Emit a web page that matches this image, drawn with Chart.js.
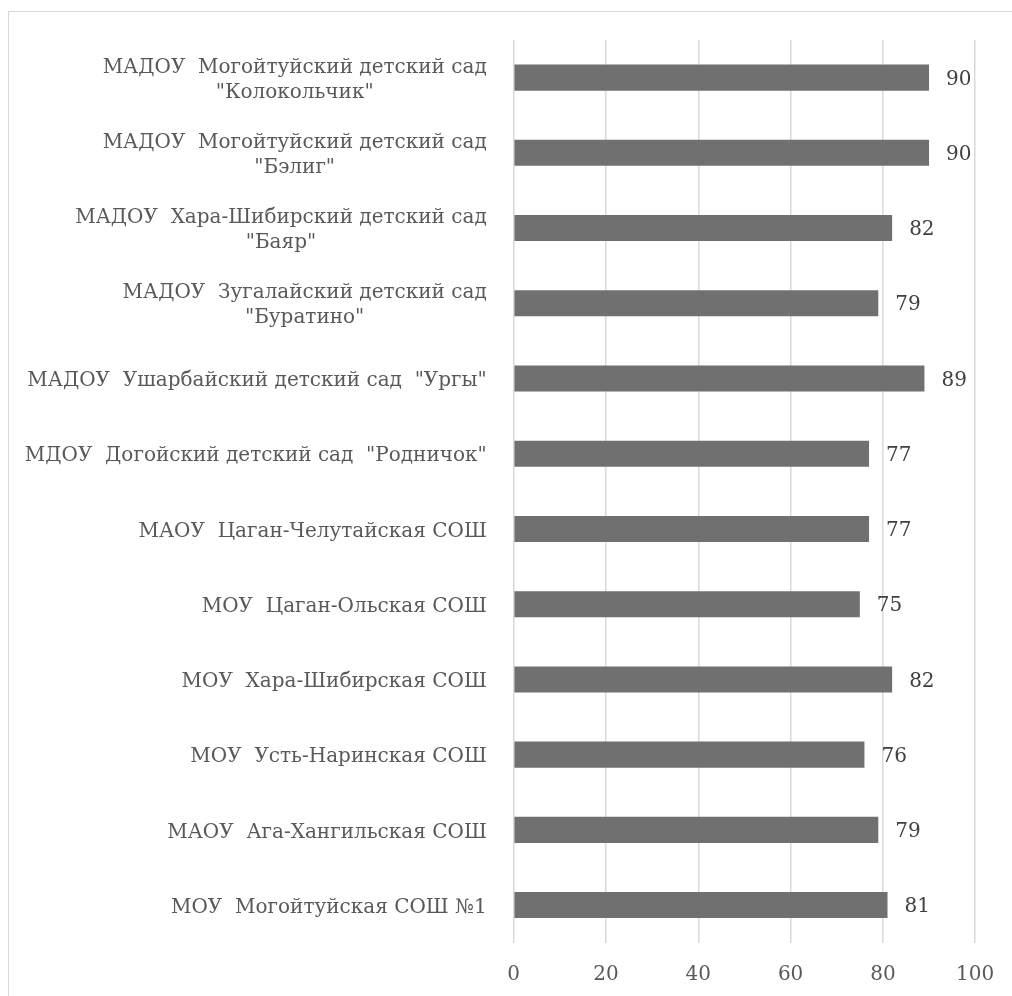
<!DOCTYPE html>
<html><head><meta charset="utf-8">
<script src="https://cdn.jsdelivr.net/npm/chart.js@4"></script>
<style>html,body{margin:0;padding:0;background:#fff;overflow:hidden}#wrap{position:relative;width:1012px;height:996px}</style>
</head><body><div id="wrap"><canvas id="c" width="1012" height="996"></canvas></div>
<script>
const categories = [
  ['МАДОУ  Могойтуйский детский сад', '"Колокольчик"'],
  ['МАДОУ  Могойтуйский детский сад', '"Бэлиг"'],
  ['МАДОУ  Хара-Шибирский детский сад', '"Баяр"'],
  ['МАДОУ  Зугалайский детский сад', '"Буратино"'],
  ['МАДОУ  Ушарбайский детский сад  "Ургы"'],
  ['МДОУ  Догойский детский сад  "Родничок"'],
  ['МАОУ  Цаган-Челутайская СОШ'],
  ['МОУ  Цаган-Ольская СОШ'],
  ['МОУ  Хара-Шибирская СОШ'],
  ['МОУ  Усть-Наринская СОШ'],
  ['МАОУ  Ага-Хангильская СОШ'],
  ['МОУ  Могойтуйская СОШ №1']
];
const values = [90, 90, 82, 79, 89, 77, 77, 75, 82, 76, 79, 81];
const xTicks = [0, 20, 40, 60, 80, 100];

const FONT = '"DejaVu Serif", serif';
const FS = 20;

const borderPlugin = {
  id: 'frame',
  beforeDraw(chart) {
    const c = chart.ctx;
    c.save();
    c.strokeStyle = '#d9d9d9';
    c.lineWidth = 1;
    c.strokeRect(8.5, 11.5, 2000, 2000);
    c.restore();
  }
};

const catLabelPlugin = {
  id: 'catLabels',
  afterDraw(chart) {
    const ys = chart.scales.y;
    const c = chart.ctx;
    c.save();
    c.font = FS + 'px ' + FONT;
    c.fillStyle = '#595959';
    c.textBaseline = 'middle';
    c.textAlign = 'center';
    const right = ys.right - 27;
    const lh = 25;
    categories.forEach((lines, i) => {
      const y = ys.getPixelForTick(i);
      const w = Math.max(...lines.map(l => c.measureText(l).width));
      const cx = right - w / 2;
      const y0 = y - (lines.length - 1) * lh / 2 + 2.5;
      lines.forEach((l, j) => c.fillText(l, cx, y0 + j * lh));
    });
    c.restore();
  }
};

const valueLabelPlugin = {
  id: 'valueLabels',
  afterDatasetsDraw(chart) {
    const c = chart.ctx;
    const meta = chart.getDatasetMeta(0);
    c.save();
    c.font = FS + 'px ' + FONT;
    c.fillStyle = '#404040';
    c.textBaseline = 'middle';
    c.textAlign = 'left';
    meta.data.forEach((bar, i) => {
      c.fillText(String(Math.round(values[i])), bar.x + 17, bar.y + 2);
    });
    c.restore();
  }
};

new Chart(document.getElementById('c'), {
  type: 'bar',
  data: {
    labels: categories,
    datasets: [{
      data: values,
      backgroundColor: '#707070',
      borderWidth: 0,
      barPercentage: 0.346,
      categoryPercentage: 1
    }]
  },
  options: {
    indexAxis: 'y',
    responsive: false,
    animation: false,
    devicePixelRatio: 1,
    layout: { padding: { top: 40, right: 36.8, left: 0, bottom: 0 } },
    plugins: { legend: { display: false }, tooltip: { enabled: false } },
    scales: {
      x: {
        min: 0, max: 100,
        afterBuildTicks: s => { s.ticks = xTicks.map(v => ({ value: v })); },
        ticks: { padding: 0, color: '#595959', font: { family: FONT, size: FS } },
        grid: { color: '#d9d9d9', lineWidth: 1.5, drawTicks: true, tickLength: 20, tickColor: 'rgba(0,0,0,0)' },
        border: { display: false },
        afterFit: s => { s.height = 53.3; }
      },
      y: {
        ticks: { display: false },
        grid: { display: false },
        border: { display: false },
        afterFit: s => { s.width = 513.7; }
      }
    }
  },
  plugins: [borderPlugin, catLabelPlugin, valueLabelPlugin]
});
</script>
</body></html>
